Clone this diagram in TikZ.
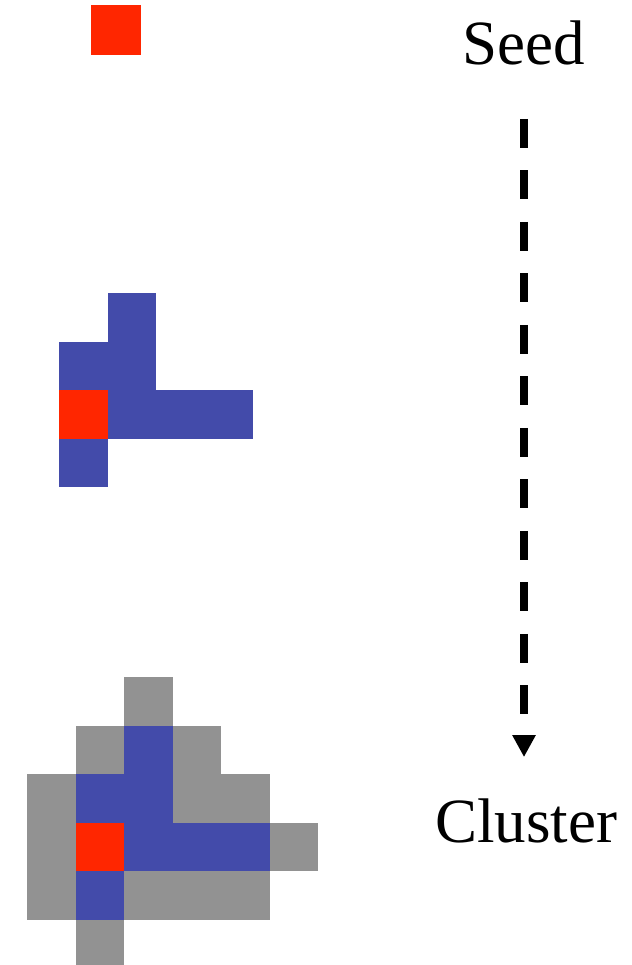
\documentclass[tikz,border=0pt]{standalone}
\usepackage{fontspec}
\setmainfont{Liberation Serif}
\usetikzlibrary{arrows.meta,positioning}
\definecolor{seedred}{HTML}{FF2600}
\definecolor{growblue}{HTML}{434BAA}
\definecolor{rimgray}{HTML}{929292}

\begin{document}
\begin{tikzpicture}[x=1pt, y=-1pt,
    seedcell/.style={fill=seedred},
    grown/.style={fill=growblue},
    rim/.style={fill=rimgray},
    stage/.style={inner sep=0pt, anchor=base, font=\fontsize{63}{70}\selectfont},
    flow/.style={-{Triangle[length=22pt, width=22pt]}, line width=7.5pt,
                 dash pattern=on 29pt off 22.5pt},
]
\useasboundingbox (0,0) rectangle (631,965);

% Stage 1: single seed
\fill[seedcell] (91,5) rectangle (141,55);

% Stage 2: grown cluster
\begin{scope}[shift={(59,293)}, x=48.5pt, y=-48.5pt]
\foreach \c/\r in {1/0, 0/1, 1/1, 1/2, 2/2, 3/2, 0/3} {
    \fill[grown] (\c,\r) rectangle ++(1,1);
}
\fill[seedcell] (0,2) rectangle ++(1,1);
\end{scope}

% Stage 3: cluster with its perimeter
\begin{scope}[shift={(27,677)}, x=48.5pt, y=-48.5pt]
\foreach \c/\r in {2/0, 1/1, 3/1, 0/2, 3/2, 4/2, 0/3, 5/3, 0/4, 2/4, 3/4, 4/4, 1/5} {
    \fill[rim] (\c,\r) rectangle ++(1,1);
}
\foreach \c/\r in {2/1, 1/2, 2/2, 2/3, 3/3, 4/3, 1/4} {
    \fill[grown] (\c,\r) rectangle ++(1,1);
}
\fill[seedcell] (1,3) rectangle ++(1,1);
\end{scope}

% Labels and growth direction
\node[stage] (seed) at (524,65) {Seed};
\node[stage] (cluster) at (526,842) {Cluster};

\draw[flow, shorten <=53pt, shorten >=41pt] (seed.south) -- (seed.south |- cluster.north);
\end{tikzpicture}
\end{document}
